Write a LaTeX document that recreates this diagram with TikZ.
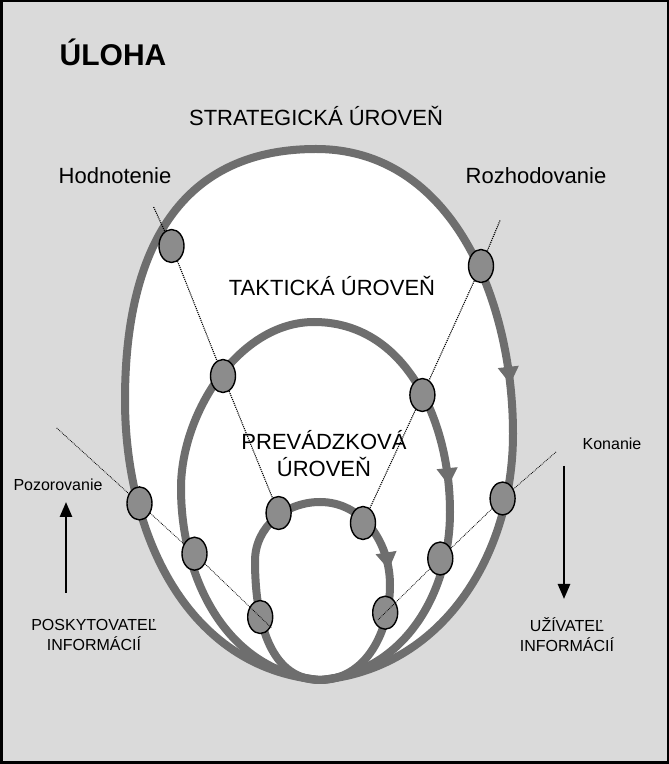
\documentclass[tikz,border=0pt]{standalone}
\usepackage{fontspec}
\setmainfont{Liberation Sans}
\usetikzlibrary{arrows.meta,shapes.geometric,decorations.markings,calc}
\definecolor{bggray}{RGB}{218,218,218}
\definecolor{loopgray}{RGB}{110,110,110}
\definecolor{dotgray}{RGB}{140,140,140}

\begin{document}
\begin{tikzpicture}[x=1pt,y=1pt,
  level/.style={draw=loopgray, line width=8pt, line join=round},
  turn/.style={postaction={decorate}, decoration={markings,
    mark=at position #1 with {\arrow{Triangle[length=17pt,width=21pt,line width=1pt]}}}},
  point/.style={ellipse, draw=black, line width=1.4pt, fill=dotgray,
    minimum width=25pt, minimum height=33pt, inner sep=0pt},
  link/.style={densely dotted, line width=1.1pt},
  lbl/.style={font=\fontsize{22}{27}\selectfont, align=center},
  side/.style={font=\fontsize{16}{20}\selectfont, align=center},
  flow/.style={-{Triangle[length=15pt,width=12pt]}, line width=2.6pt}]
  \useasboundingbox (0,0) rectangle (669,764);
  % Background and frame
  \fill[bggray] (0,0) rectangle (669,764);
  \draw[line width=2.5pt] (1.25,1.25) rectangle (667.75,762.75);
  % Common bottom point
  \coordinate (bot) at (320,84);
  % Outer loop
  \coordinate (ot) at (316,615);
  \coordinate (or) at (513,330);
  \coordinate (ol) at (125,364);
  \draw[level, fill=white, turn=335pt] (ot) to[out=0,in=90] (or)
    to[out=-90,in=5] (bot) to[out=175,in=-90] (ol)
    to[out=90,in=180,looseness=1.15] (ot);
  % Middle loop
  \coordinate (mt) at (314,442);
  \coordinate (mr) at (450,252);
  \coordinate (ml) at (181,276);
  \draw[level, turn=233pt] (mt) to[out=0,in=90] (mr)
    to[out=-90,in=5] (bot) to[out=175,in=-90] (ml)
    to[out=90,in=180,looseness=0.9] (mt);
  % Small loop
  \coordinate (st) at (320,262);
  \coordinate (sr) at (390,179);
  \coordinate (sl) at (255,203);
  \draw[level, turn=105pt] (st) to[out=0,in=90] (sr)
    to[out=-90,in=0] (bot) to[out=180,in=-90] (sl)
    to[out=90,in=180] (st);
  % Points on the loops
  \node[point] (ol1) at (171.5,518) {};
  \node[point] (ml1) at (223,388) {};
  \node[point] (sl1) at (278.6,251) {};
  \node[point] (or1) at (481,498) {};
  \node[point] (mr1) at (422.4,369) {};
  \node[point] (sr1) at (363,241) {};
  \node[point] (ol2) at (139.5,260.6) {};
  \node[point] (ml2) at (194.5,210.3) {};
  \node[point] (sl2) at (260.2,147) {};
  \node[point] (or2) at (502.6,265.5) {};
  \node[point] (mr2) at (440.3,205.5) {};
  \node[point] (sr2) at (385.2,151.3) {};
  % Dotted lines
  \coordinate (e1) at (153.6,557);
  \coordinate (e2) at (500,543.5);
  \coordinate (e3) at (56.7,336);
  \coordinate (e4) at (556,312);
  \draw[link] (e1) -- (ol1) -- (ml1) -- (sl1);
  \draw[link] (e2) -- (or1) -- (mr1) -- (sr1);
  \draw[link, line width=0.8pt] (e3) -- (ol2) -- (ml2) -- ($(ml2)!1.17!(sl2)$);
  \draw[link, line width=0.8pt] (e4) -- (or2) -- (mr2) -- ($(mr2)!1.13!(sr2)$);
  % Labels
  \node[font=\bfseries\fontsize{30}{36}\selectfont] (task) at (113,712) {ÚLOHA};
  \node[lbl] (strat) at (316,648) {STRATEGICKÁ ÚROVEŇ};
  \node[lbl] (eval) at (115,588) {Hodnotenie};
  \node[lbl] (decide) at (536,588) {Rozhodovanie};
  \node[lbl] (tact) at (332,478) {TAKTICKÁ ÚROVEŇ};
  \node[lbl] (oper) at (324,310) {PREVÁDZKOVÁ\\ÚROVEŇ};
  \node[side] (obs) at (58,279) {Pozorovanie};
  \node[side] (act) at (612,320) {Konanie};
  \node[side] (prov) at (94,129) {POSKYTOVATEĽ\\INFORMÁCIÍ};
  \node[side] (user) at (567,129) {UŽÍVATEĽ\\INFORMÁCIÍ};
  % Side arrows
  \coordinate (up0) at (66,171);
  \coordinate (up1) at (66,262);
  \coordinate (dn0) at (564,298);
  \coordinate (dn1) at (564,165);
  \draw[flow] (up0) -- (up1);
  \draw[flow] (dn0) -- (dn1);
\end{tikzpicture}
\end{document}
